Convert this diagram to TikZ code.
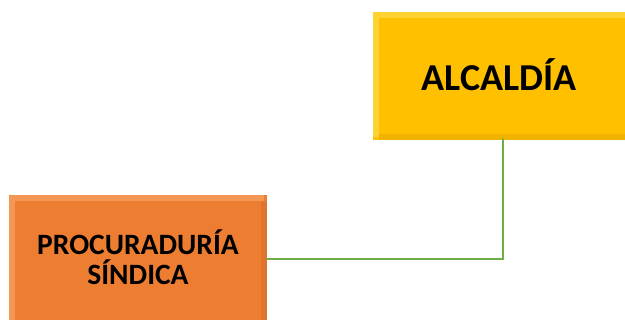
\documentclass[tikz,border=0pt]{standalone}
\usepackage{fontspec}
\setmainfont{Carlito}
\usepackage{tikz}
\definecolor{gold}{HTML}{FFC000}
\definecolor{goldlight}{HTML}{FFD233}
\definecolor{golddark}{HTML}{F0B400}
\definecolor{orng}{HTML}{ED7D31}
\definecolor{orngligh}{HTML}{F39656}
\definecolor{orngdark}{HTML}{E0742C}
\definecolor{link}{HTML}{70AD47}

\begin{document}
\begin{tikzpicture}[line cap=round,x=1pt,y=1pt,
    box/.style={minimum width=#1, inner sep=0pt, align=center, font=\bfseries},
    bevel/.style={line width=6pt, line cap=butt}]
        \useasboundingbox (0,0) rectangle (625,320);
        % alcaldia
        \fill[gold] (373,180) rectangle (625,308);
        \draw[bevel,goldlight] (376,183) -- (376,305) -- (625,305);
        \draw[bevel,golddark] (379,183) -- (625,183);
        \node[box=252, minimum height=128, font=\bfseries\fontsize{38}{44}\selectfont] (alc) at (499,245) {ALCALD\'IA};
        % procuraduria
        \fill[orng] (9,0) rectangle (267,125);
        \draw[bevel,orngligh] (12,0) -- (12,122) -- (264,122);
        \draw[bevel,orngdark] (264,119) -- (264,0);
        \node[box=258, minimum height=125, font=\bfseries\fontsize{29.5}{30}\selectfont] (proc) at (138,63) {PROCURADUR\'IA\\S\'INDICA};
        % enlace
        \draw[link,line width=2.5pt] (proc.east |- 0,61) -| ([xshift=4pt]alc.south);
\end{tikzpicture}
\end{document}
